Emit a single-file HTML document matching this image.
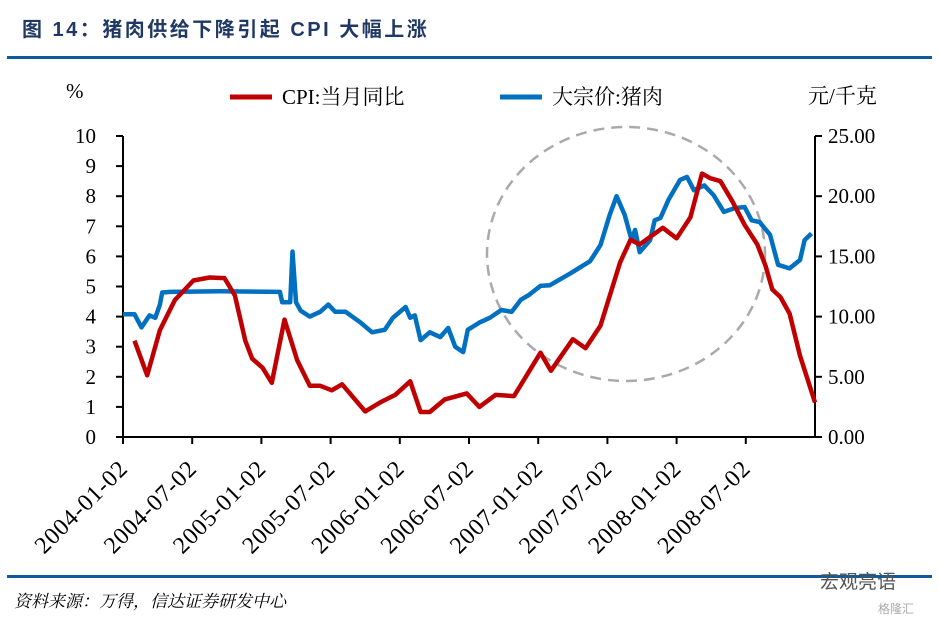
<!DOCTYPE html>
<html><head><meta charset="utf-8"><style>
body{margin:0;background:#fff;}
svg{display:block;font-family:"Liberation Serif","Noto Serif CJK SC",serif;}
</style></head><body>
<svg id="c" width="939" height="623">
<text x="22" y="36" font-family="Liberation Sans,Noto Sans CJK SC,sans-serif" font-weight="bold" font-size="20" letter-spacing="2.5" fill="#1f3864">图 14：猪肉供给下降引起 CPI 大幅上涨</text>
<line x1="7" y1="57.5" x2="932" y2="57.5" stroke="#0e5a9a" stroke-width="3"/>
<text x="66" y="98" font-size="21">%</text>
<text x="808" y="103" font-size="21" font-family="Liberation Serif,Noto Serif CJK SC,serif">元/千克</text>
<g>
<line x1="230" y1="97" x2="272" y2="97" stroke="#c00000" stroke-width="5"/>
<text x="282" y="104" font-size="21">CPI:当月同比</text>
<line x1="500" y1="97" x2="542" y2="97" stroke="#0070c0" stroke-width="5"/>
<text x="552" y="104" font-size="21">大宗价:猪肉</text>
</g>
<g id="axes"></g>
<ellipse cx="626" cy="254" rx="139" ry="127" fill="none" stroke="#aaa" stroke-width="2.5" stroke-dasharray="11,7"/>
<g id="series"></g>
<line x1="7" y1="576.5" x2="932" y2="576.5" stroke="#0e5a9a" stroke-width="3"/>
<text x="14" y="607" font-size="17" font-style="italic" font-family="Liberation Serif,Noto Serif CJK SC,serif">资料来源：万得，信达证券研发中心</text>
<text x="820" y="588" font-size="19" fill="#555" font-family="Liberation Sans,Noto Sans CJK SC,sans-serif">宏观亮语</text>
<text x="878" y="613" font-size="12" fill="#aaa" font-family="Liberation Sans,Noto Sans CJK SC,sans-serif">格隆汇</text>
</svg>
<script>
const xTickLabels=["2004-01-02","2004-07-02","2005-01-02","2005-07-02","2006-01-02","2006-07-02","2007-01-02","2007-07-02","2008-01-02","2008-07-02"];
const leftTicks=[0,1,2,3,4,5,6,7,8,9,10];
const rightTicks=["0.00","5.00","10.00","15.00","20.00","25.00"];
// months since 2004-01
const cpiT=[1,2.1,3.2,4.5,6.1,7.5,8.8,9.7,10.6,11.2,12.1,12.9,14,15.1,16.2,17.1,18.1,19,21,22.3,23.6,24.9,25.8,26.6,27.9,29.8,30.9,32.3,33.9,35,36.2,37.1,39,40.1,41.4,43.1,44,44.8,46.8,48,49.2,50.2,50.9,51.8,52.8,53.9,55,55.7,56.3,57,57.8,58.7,60];
const cpiV=[3.2,2.05,3.55,4.55,5.2,5.3,5.28,4.7,3.2,2.6,2.3,1.8,3.9,2.55,1.7,1.7,1.55,1.75,0.85,1.15,1.4,1.85,0.83,0.83,1.25,1.45,1.0,1.4,1.36,2.05,2.8,2.2,3.25,2.95,3.7,5.8,6.55,6.4,6.95,6.6,7.3,8.75,8.6,8.5,7.85,7.05,6.4,5.7,4.9,4.65,4.1,2.7,1.15];
const porkT=[0,1,1.6,2.3,2.8,3.2,3.4,4.1,8.4,13.6,13.8,14.5,14.7,15,15.4,16.2,17.1,17.8,18.4,19.3,20.6,21.6,22.7,23.4,24.5,24.9,25.3,25.8,26.6,27.5,28.2,28.8,29.5,29.9,30.9,31.8,32.8,33.7,34.5,35.2,36.2,37,38.8,40.5,41.4,42.2,42.8,43.5,44.1,44.4,44.8,45.7,46.1,46.6,47.3,48.3,48.9,49.5,50.4,51.2,52.1,53,53.9,54.5,55.2,56.1,56.8,57.8,58.7,59.1,59.7];
const porkV=[10.2,10.2,9.1,10.1,9.9,11,12,12.05,12.1,12.05,11.2,11.2,15.4,11.2,10.5,10,10.4,11,10.4,10.4,9.5,8.7,8.9,9.9,10.8,9.9,10.1,8.05,8.7,8.3,9.05,7.5,7.05,8.9,9.5,9.9,10.55,10.4,11.4,11.8,12.55,12.6,13.6,14.6,15.95,18.45,20,18.45,16.35,17.2,15.35,16.35,18,18.2,19.7,21.35,21.6,20.5,20.9,20.1,18.7,19,19.1,18,17.85,16.8,14.3,14,14.7,16.35,16.9];
const X0=123,X1=815,Y0=437,Y1=136;
const xs=t=>X0+t*(X1-X0)/60;
const yl=v=>Y0-v*(Y0-Y1)/10;
const yr=v=>Y0-v*(Y0-Y1)/25;
const NS="http://www.w3.org/2000/svg";
function mk(tag,at,parent){const e=document.createElementNS(NS,tag);for(const k in at)e.setAttribute(k,at[k]);parent.appendChild(e);return e;}
const ax=document.getElementById('axes');
let e;
e=mk('path',{d:`M${X0},${Y1}V${Y0}H${X1}V${Y1}`,fill:'none',stroke:'#000','stroke-width':2},ax);


leftTicks.forEach(v=>{
 const y=yl(v);
 e=mk('line',{x1:X0-7,x2:X0,y1:y,y2:y,stroke:'#000','stroke-width':2},ax);
 
 
 e=mk('text',{x:96,y:y+7,'text-anchor':'end','font-size':21},ax);e.textContent=v;
 
 
});
rightTicks.forEach((s,i)=>{
 const y=yr(parseFloat(s));
 e=mk('line',{x1:X1,x2:X1+7,y1:y,y2:y,stroke:'#000','stroke-width':2},ax);
 
 
 e=mk('text',{x:828,y:y+7,'font-size':21},ax);e.textContent=s;
 
 
});
xTickLabels.forEach((s,i)=>{
 const x=xs(i*6);
 e=mk('line',{x1:x,x2:x,y1:Y0,y2:Y0+7,stroke:'#000','stroke-width':2},ax);
 
 
 const ax2=x+6, ay=Y0+33;
 e=mk('text',{x:ax2,y:ay,'text-anchor':'end','font-size':24,'letter-spacing':'0.8',transform:`rotate(-45 ${ax2} ${ay})`},ax);e.textContent=s;
 
 
});
const sg=document.getElementById('series');
e=mk('path',{d:porkT.map((t,i)=>(i?'L':'M')+xs(t).toFixed(1)+','+yr(porkV[i]).toFixed(1)).join(''),fill:'none',stroke:'#0070c0','stroke-width':4.5,'stroke-linejoin':'round'},sg);


e=mk('path',{d:cpiT.map((t,i)=>(i?'L':'M')+xs(t).toFixed(1)+','+yl(cpiV[i]).toFixed(1)).join(''),fill:'none',stroke:'#c00000','stroke-width':4.5,'stroke-linejoin':'round'},sg);


</script>
</body></html>
